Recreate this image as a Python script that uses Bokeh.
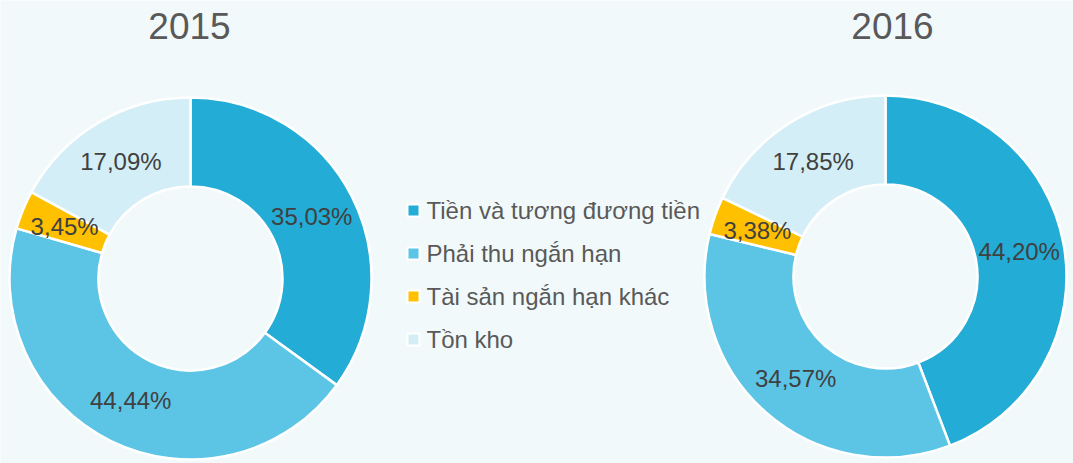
import math
from bokeh.plotting import figure
from bokeh.models import Range1d, ColumnDataSource
from bokeh.core.properties import value
from bokeh.embed import file_html
from bokeh.resources import INLINE

# ---- data ----
categories = ["Tiền và tương đương tiền", "Phải thu ngắn hạn",
              "Tài sản ngắn hạn khác", "Tồn kho"]
colors = ["#23ACD6", "#5CC5E6", "#FFC000", "#D3EEF6"]
years = ["2015", "2016"]
values_2015 = [35.03, 44.44, 3.45, 17.09]
values_2016 = [44.20, 34.57, 3.38, 17.85]

# ---- layout (page pixel coords, y measured from top) ----
W, H = 1073, 463
BG = "#F2F9FB"
FONT = value("Liberation Sans")
centers = [(190, 278), (885, 276)]
title_x = [189, 892]
R_OUT, R_IN, R_LAB = 181, 92, 136


def Y(py):
    return H - py


p = figure(width=W, height=H, x_range=Range1d(0, W), y_range=Range1d(0, H),
           output_backend="svg", toolbar_location=None, min_border=0,
           x_axis_type=None, y_axis_type=None,
           background_fill_color=BG, border_fill_color=BG, outline_line_color=None)
p.grid.visible = False

for (cx, cy), tx, year, vals in zip(centers, title_x, years, [values_2015, values_2016]):
    total = sum(vals)
    starts, ends, lx, ly, labels = [], [], [], [], []
    cum = 0.0
    for v in vals:
        a0 = cum / total
        a1 = (cum + v) / total
        cum += v
        # clockwise from 12 o'clock
        starts.append(math.pi / 2 - 2 * math.pi * a1)
        ends.append(math.pi / 2 - 2 * math.pi * a0)
        mid = 2 * math.pi * (a0 + a1) / 2
        lx.append(cx + R_LAB * math.sin(mid))
        ly.append(Y(cy) + R_LAB * math.cos(mid))
        labels.append(f"{v:.2f}".replace(".", ",") + "%")
    src = ColumnDataSource(dict(x=[cx] * len(vals), y=[Y(cy)] * len(vals),
                                start=starts, end=ends, color=colors,
                                lx=lx, ly=ly, label=labels))
    p.annular_wedge(x="x", y="y", inner_radius=R_IN, outer_radius=R_OUT,
                    inner_radius_units="screen", outer_radius_units="screen",
                    start_angle="start", end_angle="end",
                    fill_color="color", line_color="white", line_width=2.5,
                    source=src)
    p.text(x="lx", y="ly", text="label", source=src, text_font=FONT,
           text_font_size="24px", text_color="#404040",
           text_align="center", text_baseline="middle")
    p.text(x=[tx], y=[Y(25)], text=[year], text_font=FONT,
           text_font_size="37px", text_color="#595959",
           text_align="center", text_baseline="middle")

# ---- legend ----
leg_y = [Y(210 + 43 * i) for i in range(len(categories))]
p.scatter(x=[413] * len(categories), y=leg_y, marker="square", size=12,
          fill_color=colors, line_color="white", line_width=2)
p.text(x=[426] * len(categories), y=leg_y, text=categories, text_font=FONT,
       text_font_size="24px", text_color="#595959",
       text_align="left", text_baseline="middle")

open("out.html", "w").write(file_html(p, INLINE))
